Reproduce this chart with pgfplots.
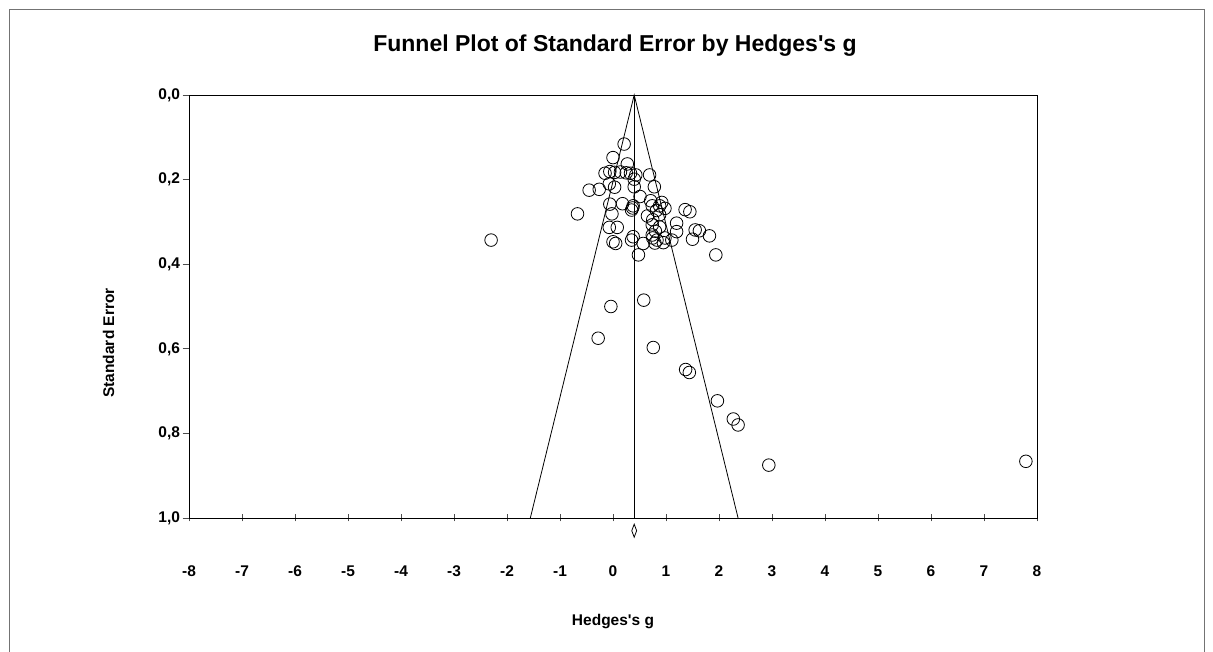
\documentclass[border=0pt]{standalone}
\usepackage{fontspec}
\setmainfont{Liberation Sans}
\usepackage{pgfplots}
\pgfplotsset{compat=1.18}
\begin{document}
\begin{tikzpicture}
\useasboundingbox (0pt,0pt) rectangle (1213pt,652pt);
\draw[black!55, line width=0.8pt] (9pt,0pt) -- (9pt,643pt) -- (1204pt,643pt) -- (1204pt,0pt);
\begin{axis}[
  at={(189pt,134pt)}, anchor=south west,
  scale only axis, width=848pt, height=423pt,
  xmin=-8, xmax=8, ymin=0, ymax=1, y dir=reverse,
  clip=false,
  axis line style={line width=0.8pt},
  xtick={-8,-7,...,8},
  xticklabels={-8,-7,-6,-5,-4,-3,-2,-1,0,1,2,3,4,5,6,7,8},
  ytick={0,0.2,0.4,0.6,0.8,1},
  yticklabels={{0,0},{0,2},{0,4},{0,6},{0,8},{1,0}},
  xtick pos=bottom, ytick pos=left,
  tick align=center, major tick length=7pt,
  xtick style={line width=0.7pt, black!70},
  ytick style={line width=0.7pt, black!70, xshift=-3pt},
  ticklabel style={font=\bfseries\fontsize{15.5}{18}\selectfont},
  xticklabel style={yshift=-41pt},
  yticklabel style={xshift=-2pt},
]
\addplot[black, line width=0.8pt] coordinates {(-1.56,1) (0.4,0) (2.36,1)};
\addplot[black, line width=0.8pt] coordinates {(0.4,0) (0.4,1)};
\addplot[only marks, mark=diamond, mark size=6.5pt, mark options={xscale=0.5, black, line width=0.8pt}] coordinates {(0.4,1.03)};
\addplot[only marks, mark=o, mark size=6.3pt, mark options={black, line width=0.8pt}] table {
g se
0.21 0.116
0.00 0.148
0.27 0.163
-0.15 0.185
-0.06 0.181
0.03 0.183
0.14 0.182
0.25 0.184
0.33 0.185
0.43 0.189
0.40 0.199
0.69 0.189
-0.45 0.225
-0.26 0.223
-0.07 0.210
0.03 0.218
0.40 0.217
0.78 0.217
0.51 0.240
-0.06 0.258
0.18 0.257
0.38 0.262
0.35 0.272
0.37 0.267
0.71 0.250
0.74 0.262
0.92 0.254
0.98 0.268
0.82 0.273
0.88 0.262
1.36 0.271
1.45 0.276
-0.67 0.281
-0.02 0.281
0.65 0.286
0.75 0.295
0.88 0.283
1.20 0.303
0.88 0.312
0.74 0.307
0.80 0.322
1.20 0.323
1.55 0.319
1.63 0.321
1.82 0.333
1.50 0.341
-0.07 0.313
0.08 0.313
0.38 0.335
0.35 0.343
0.00 0.347
0.05 0.351
0.74 0.331
0.75 0.338
0.83 0.343
0.95 0.349
1.11 0.343
0.98 0.338
0.57 0.351
0.79 0.350
1.94 0.378
0.48 0.378
-2.30 0.343
-0.04 0.500
0.58 0.485
-0.28 0.575
0.76 0.597
1.37 0.649
1.44 0.656
1.97 0.723
2.27 0.766
2.36 0.780
2.94 0.875
7.79 0.866
};
\end{axis}
\node[font=\bfseries\fontsize{23}{27}\selectfont] at (615pt,606pt) {Funnel Plot of Standard Error by Hedges\textquotesingle s g};
\node[font=\bfseries\fontsize{15.5}{18}\selectfont] at (613pt,30pt) {Hedges\textquotesingle s g};
\node[font=\bfseries\fontsize{15.5}{18}\selectfont, rotate=90] at (108.5pt,309pt) {Standard Error};
\end{tikzpicture}
\end{document}
